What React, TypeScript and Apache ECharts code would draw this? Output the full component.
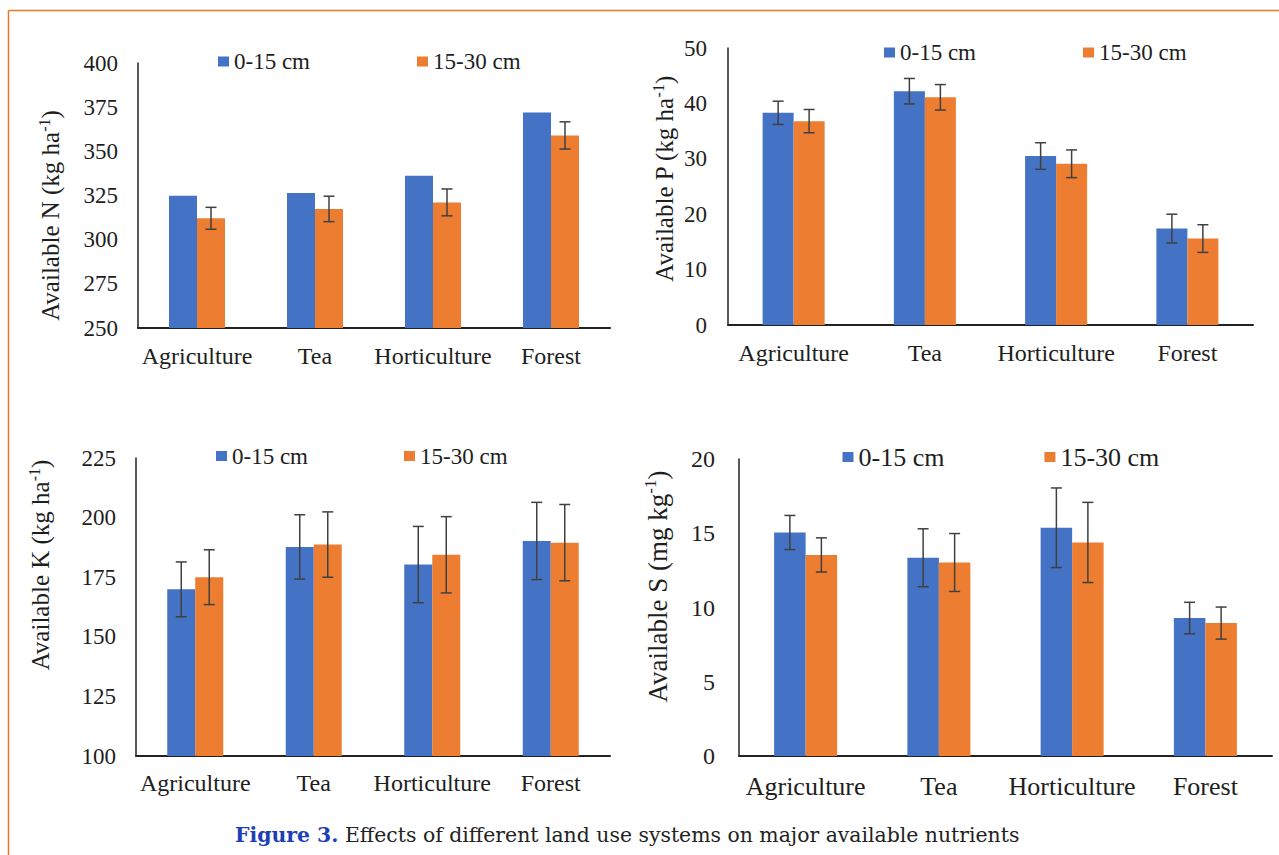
import React, { useEffect, useRef } from 'react';
import * as echarts from 'echarts';

// ---------- data ----------
const categories = ['Agriculture', 'Tea', 'Horticulture', 'Forest'];
const seriesNames = ['0-15 cm', '15-30 cm'];

const nTicks = [250, 275, 300, 325, 350, 375, 400];
const nShallow = [324.9, 326.4, 336.2, 372.0];
const nDeep = [312.1, 317.4, 321.1, 359.0];
const nDeepErr = [6.2, 7.2, 7.6, 7.7];

const pTicks = [0, 10, 20, 30, 40, 50];
const pShallow = [38.3, 42.2, 30.5, 17.4];
const pShallowErr = [2.1, 2.3, 2.4, 2.6];
const pDeep = [36.8, 41.1, 29.1, 15.6];
const pDeepErr = [2.1, 2.3, 2.5, 2.5];

const kTicks = [100, 125, 150, 175, 200, 225];
const kShallow = [169.9, 187.7, 180.3, 190.2];
const kShallowErr = [11.5, 13.5, 16.0, 16.2];
const kDeep = [175.0, 188.7, 184.4, 189.5];
const kDeepErr = [11.5, 13.7, 16.0, 16.0];

const sTicks = [0, 5, 10, 15, 20];
const sShallow = [15.05, 13.35, 15.37, 9.29];
const sShallowErr = [1.15, 1.95, 2.68, 1.06];
const sDeep = [13.54, 13.03, 14.38, 8.95];
const sDeepErr = [1.15, 1.95, 2.7, 1.08];

const captionBold = 'Figure 3.';
const captionText = ' Effects of different land use systems on major available nutrients';

// ---------- style ----------
const SERIF = '"Liberation Serif", "Times New Roman", serif';
const BLUE = '#4472C4';
const ORANGE = '#ED7D31';
const TEXT = '#1e1e1e';
const ERR = '#404040';

type Panel = {
  grid: { left: number; top: number; width: number; height: number };
  ticks: number[];
  shallow: number[];
  shallowErr: number[] | null;
  deep: number[];
  deepErr: number[] | null;
  name: string;
  nameGap: number;
  namePad: number[];
  barWidth: number;
  tickFont: number;
  tickMargin: number;
  catFont: number;
  catMargin: number;
  nameFont: number;
  legend: { left: number; top: number; gap: number; font: number };
};

const panels: Panel[] = [
  {
    grid: { left: 138, top: 63, width: 472, height: 265 },
    ticks: nTicks, shallow: nShallow, shallowErr: null, deep: nDeep, deepErr: nDeepErr,
    name: 'Available N (kg ha{sup|-1})', nameGap: 73, namePad: [0, 40, 0, 0],
    barWidth: 28, tickFont: 23, tickMargin: 20, catFont: 24, catMargin: 16, nameFont: 25,
    legend: { left: 218, top: 49.5, gap: 107, font: 23 },
  },
  {
    grid: { left: 728, top: 48, width: 525, height: 277 },
    ticks: pTicks, shallow: pShallow, shallowErr: pShallowErr, deep: pDeep, deepErr: pDeepErr,
    name: 'Available P (kg ha{sup|-1})', nameGap: 49, namePad: [0, 0, 0, 15],
    barWidth: 31, tickFont: 23, tickMargin: 21, catFont: 24, catMargin: 16, nameFont: 25,
    legend: { left: 884, top: 40.5, gap: 107, font: 23 },
  },
  {
    grid: { left: 136, top: 458, width: 474, height: 298 },
    ticks: kTicks, shallow: kShallow, shallowErr: kShallowErr, deep: kDeep, deepErr: kDeepErr,
    name: 'Available K (kg ha{sup|-1})', nameGap: 81, namePad: [0, 0, 0, 84],
    barWidth: 28, tickFont: 23, tickMargin: 20, catFont: 24, catMargin: 15, nameFont: 25,
    legend: { left: 216, top: 444, gap: 96, font: 23 },
  },
  {
    grid: { left: 739, top: 459, width: 533, height: 297 },
    ticks: sTicks, shallow: sShallow, shallowErr: sShallowErr, deep: sDeep, deepErr: sDeepErr,
    name: 'Available S (mg kg{sup|-1})', nameGap: 66, namePad: [0, 0, 0, 42],
    barWidth: 31.5, tickFont: 24, tickMargin: 24, catFont: 26, catMargin: 17, nameFont: 27,
    legend: { left: 842.5, top: 443.5, gap: 100, font: 26 },
  },
];

function errorRenderer(side: number, barWidth: number) {
  return (params: any, api: any) => {
    const idx = api.value(0);
    const lo = api.coord([idx, api.value(1)]);
    const hi = api.coord([idx, api.value(2)]);
    const cx = lo[0] + (side * barWidth) / 2;
    const cap = 5.5;
    const style = { stroke: ERR, lineWidth: 1.5 };
    return {
      type: 'group',
      children: [
        { type: 'line', shape: { x1: cx, y1: hi[1], x2: cx, y2: lo[1] }, style },
        { type: 'line', shape: { x1: cx - cap, y1: hi[1], x2: cx + cap, y2: hi[1] }, style },
        { type: 'line', shape: { x1: cx - cap, y1: lo[1], x2: cx + cap, y2: lo[1] }, style },
      ],
    };
  };
}

function errData(vals: number[], errs: number[]) {
  return vals.map((v, i) => [i, v - errs[i], v + errs[i]]);
}

function buildOption() {
  const grid: any[] = [];
  const xAxis: any[] = [];
  const yAxis: any[] = [];
  const legend: any[] = [];
  const series: any[] = [];

  panels.forEach((p, i) => {
    grid.push({ ...p.grid, containLabel: false });
    xAxis.push({
      type: 'category',
      gridIndex: i,
      data: categories,
      axisTick: { show: false },
      axisLine: { show: true, lineStyle: { color: '#222', width: 2 } },
      axisLabel: { fontFamily: SERIF, fontSize: p.catFont, color: TEXT, margin: p.catMargin, interval: 0 },
    });
    yAxis.push({
      type: 'value',
      gridIndex: i,
      min: p.ticks[0],
      max: p.ticks[p.ticks.length - 1],
      interval: p.ticks[1] - p.ticks[0],
      splitLine: { show: false },
      axisTick: { show: false },
      axisLine: { show: true, lineStyle: { color: '#222', width: 1.5 } },
      axisLabel: { fontFamily: SERIF, fontSize: p.tickFont, color: TEXT, margin: p.tickMargin },
      name: p.name,
      nameLocation: 'middle',
      nameRotate: 90,
      nameGap: p.nameGap,
      nameTextStyle: {
        fontFamily: SERIF,
        fontSize: p.nameFont,
        color: TEXT,
        lineHeight: p.nameFont + 4,
        padding: p.namePad,
        rich: {
          sup: {
            fontFamily: SERIF,
            fontSize: Math.round(p.nameFont * 0.62),
            color: TEXT,
            lineHeight: Math.round(p.nameFont * 0.62),
            verticalAlign: 'top',
          },
        },
      },
    });
    legend.push({
      data: seriesNames,
      left: p.legend.left,
      top: p.legend.top,
      padding: 0,
      itemGap: p.legend.gap,
      itemWidth: 11,
      itemHeight: 10,
      icon: 'rect',
      selectedMode: false,
      textStyle: { fontFamily: SERIF, fontSize: p.legend.font, color: TEXT, lineHeight: p.legend.font + 1 },
    });
    series.push({
      type: 'bar', name: seriesNames[0], xAxisIndex: i, yAxisIndex: i,
      data: p.shallow, barWidth: p.barWidth, barGap: '0%', itemStyle: { color: BLUE }, clip: true,
    });
    series.push({
      type: 'bar', name: seriesNames[1], xAxisIndex: i, yAxisIndex: i,
      data: p.deep, barWidth: p.barWidth, barGap: '0%', itemStyle: { color: ORANGE }, clip: true,
    });
    if (p.shallowErr) {
      series.push({
        type: 'custom', name: 'err-a-' + i, xAxisIndex: i, yAxisIndex: i, z: 5,
        renderItem: errorRenderer(-1, p.barWidth), data: errData(p.shallow, p.shallowErr),
      });
    }
    if (p.deepErr) {
      series.push({
        type: 'custom', name: 'err-b-' + i, xAxisIndex: i, yAxisIndex: i, z: 5,
        renderItem: errorRenderer(1, p.barWidth), data: errData(p.deep, p.deepErr),
      });
    }
  });

  const borderStyle = { stroke: '#E8772E', lineWidth: 1.5 };

  return {
    animation: false,
    backgroundColor: '#ffffff',
    grid,
    xAxis,
    yAxis,
    legend,
    series,
    graphic: [
      { type: 'line', shape: { x1: 8.5, y1: 10.5, x2: 1279, y2: 10.5 }, style: borderStyle },
      { type: 'line', shape: { x1: 8.5, y1: 10.5, x2: 8.5, y2: 855 }, style: borderStyle },
      {
        type: 'text',
        x: 235,
        y: 835,
        style: {
          text: '{b|' + captionBold + '}' + captionText,
          fill: '#222',
          fontFamily: '"DejaVu Serif", serif',
          fontSize: 20.4,
          verticalAlign: 'middle',
          align: 'left',
          rich: {
            b: { fontFamily: '"DejaVu Serif", serif', fontSize: 20.4, fontWeight: 'bold', fill: '#1d3fb5' },
          },
        },
      },
    ],
  };
}

export default function App() {
  const ref = useRef<HTMLDivElement>(null);
  useEffect(() => {
    if (!ref.current) return;
    const chart = echarts.init(ref.current, undefined, { renderer: 'svg' });
    chart.setOption(buildOption() as any);
    return () => chart.dispose();
  }, []);
  return (
    <div
      ref={ref}
      style={{ position: 'fixed', left: 0, top: 0, width: 1279, height: 855, background: '#fff' }}
    />
  );
}
